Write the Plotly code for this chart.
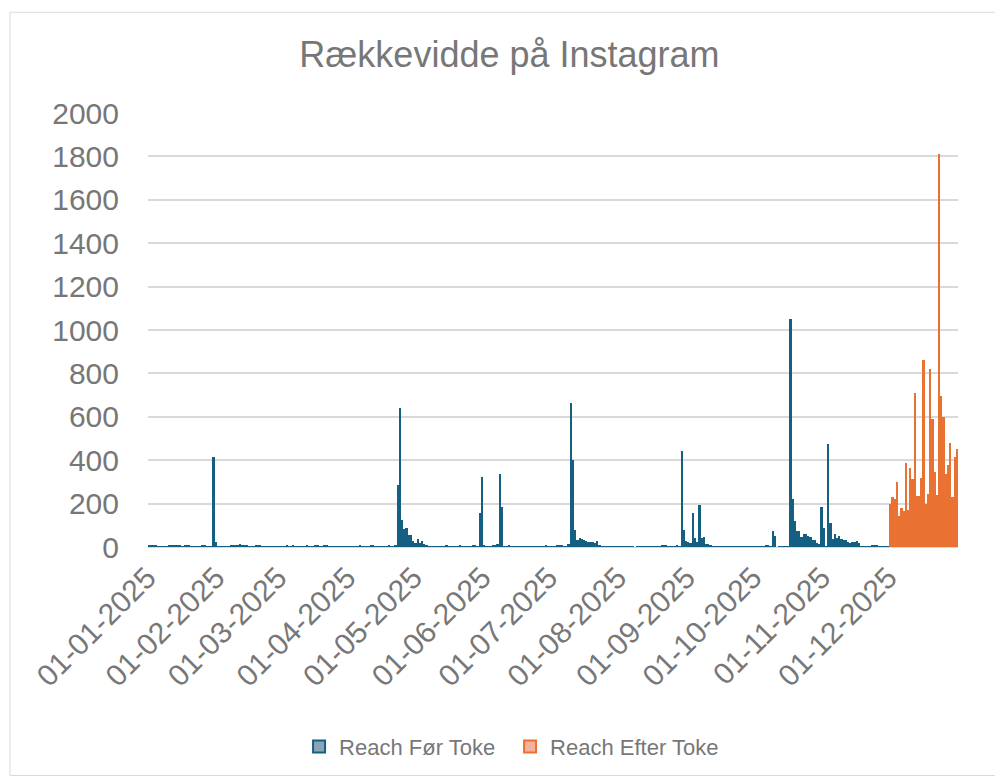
import pandas as pd
import plotly.graph_objects as go

# Daily reach values
jan = [5, 9, 10, 6, 4, 3, 4, 4, 3, 5, 6, 6, 7, 7, 8, 3, 6, 6, 5, 4, 3, 2, 4, 3, 6, 5, 3, 2, 4, 415, 25]
feb = [4, 3, 3, 4, 3, 4, 5, 9, 5, 6, 12, 8, 7, 5, 4, 2, 3, 5, 8, 6, 4, 3, 3, 2, 3, 2, 2, 1]
mar = [2, 2, 3, 5, 4, 3, 6, 4, 3, 2, 3, 4, 5, 3, 2, 4, 6, 5, 3, 3, 7, 5, 4, 3, 2, 3, 4, 3, 2, 3, 2]
apr = [3, 2, 4, 3, 2, 5, 3, 2, 3, 4, 6, 7, 4, 3, 2, 3, 4, 3, 5, 3, 4, 6, 287, 639, 126, 81, 87, 57, 54, 29]
may = [20, 35, 20, 28, 15, 8, 3, 2, 3, 2, 4, 3, 3, 2, 5, 4, 3, 2, 3, 4, 5, 4, 3, 2, 2, 3, 6, 5, 3, 155, 323]
jun = [8, 3, 2, 3, 6, 8, 12, 336, 185, 4, 3, 5, 4, 3, 2, 3, 4, 3, 2, 4, 3, 2, 3, 4, 3, 2, 3, 4, 5, 3]
jul = [3, 4, 3, 5, 8, 7, 4, 3, 15, 664, 400, 77, 30, 43, 35, 32, 26, 23, 23, 23, 20, 28, 8, 4, 3, 3, 2, 4, 3, 3, 2]
aug = [3, 2, 3, 4, 3, 2, 1, 0, 2, 3, 4, 3, 2, 3, 4, 3, 2, 3, 4, 5, 8, 6, 3, 2, 3, 4, 5, 3, 441, 78, 29]
sep = [21, 20, 155, 43, 25, 195, 40, 44, 15, 12, 9, 4, 3, 2, 3, 4, 3, 2, 3, 4, 3, 2, 2, 3, 4, 3, 2, 3, 2, 3]
oct_ = [2, 3, 2, 3, 2, 5, 6, 4, 75, 49, 0, 1, 3, 4, 3, 4, 1052, 219, 120, 75, 75, 46, 58, 61, 49, 46, 31, 31, 20, 14, 184]
nov = [86, 3, 474, 109, 37, 61, 40, 52, 37, 34, 31, 25, 20, 21, 21, 28, 20, 2, 1, 2, 1, 3, 6, 7, 5, 2, 1, 2, 1, 1]
dec = [197, 232, 221, 298, 145, 179, 168, 385, 172, 365, 313, 710, 234, 234, 318, 860, 197, 246, 820, 588,
       347, 238, 1810, 695, 597, 336, 380, 481, 232, 417, 450]

before_values = jan + feb + mar + apr + may + jun + jul + aug + sep + oct_ + nov
after_values = dec

before_dates = pd.date_range("2025-01-01", periods=len(before_values), freq="D")
after_dates = pd.date_range("2025-12-01", periods=len(after_values), freq="D")

tick_dates = pd.date_range("2025-01-01", "2025-12-01", freq="MS")
tick_labels = [d.strftime("%d-%m-%Y") for d in tick_dates]

series_before = "Reach Før Toke"
series_after = "Reach Efter Toke"
title_text = "Rækkevidde på Instagram"

BLUE = "#156082"
ORANGE = "#E97132"
BLUE_LIGHT = "#8AA5B8"
ORANGE_LIGHT = "#F4B29A"
GRAY = "#777777"
FONT = "Liberation Sans"

fig = go.Figure()
fig.add_trace(go.Bar(x=before_dates, y=before_values, name=series_before, showlegend=False,
                     marker=dict(color=BLUE, line=dict(width=0))))
fig.add_trace(go.Bar(x=after_dates, y=after_values, name=series_after, showlegend=False,
                     marker=dict(color=ORANGE, line=dict(width=0))))
# legend entries (Excel-style: light fill with darker border)
fig.add_trace(go.Bar(x=[None], y=[None], name=series_before,
                     marker=dict(color=BLUE_LIGHT, line=dict(color=BLUE, width=2))))
fig.add_trace(go.Bar(x=[None], y=[None], name=series_after,
                     marker=dict(color=ORANGE_LIGHT, line=dict(color=ORANGE, width=2))))

fig.update_layout(
    width=995, height=770,
    margin=dict(l=140, r=45, t=105, b=230),
    paper_bgcolor="white", plot_bgcolor="white",
    bargap=0, barmode="overlay",
    font=dict(family=FONT, color=GRAY),
    title=dict(text=title_text, x=0.504, xanchor="center", y=0.94, yanchor="middle",
               font=dict(size=36, color=GRAY, family=FONT)),
    legend=dict(orientation="h", x=0.447, xanchor="center", y=-0.457, yanchor="middle",
                font=dict(size=22, color=GRAY), itemwidth=30,
                entrywidth=166, entrywidthmode="pixels"),
    showlegend=True,
)
fig.update_xaxes(
    type="date",
    range=["2024-12-31 12:00", "2025-12-31 12:00"],
    tickmode="array", tickvals=tick_dates, ticktext=tick_labels,
    tickangle=-45, tickfont=dict(size=30, color=GRAY), ticklabelshift=-2,
    showgrid=False, showline=True, linecolor="#d9d9d9", linewidth=1,
    ticks="", zeroline=False,
)
fig.update_yaxes(
    range=[0, 2000], dtick=200, tick0=0,
    tickfont=dict(size=30, color=GRAY),
    showgrid=True, gridcolor="#d9d9d9", gridwidth=1.5,
    zeroline=False, showline=False, ticks="", ticklabelstandoff=28,
)
# outer chart border
fig.add_shape(type="rect", xref="paper", yref="paper",
              x0=-138/810, x1=1000/810 - 148/810, y0=-229/435, y1=1 + 101/435,
              line=dict(color="#d9d9d9", width=1), fillcolor="rgba(0,0,0,0)", layer="below")

fig.write_html("out.html")
